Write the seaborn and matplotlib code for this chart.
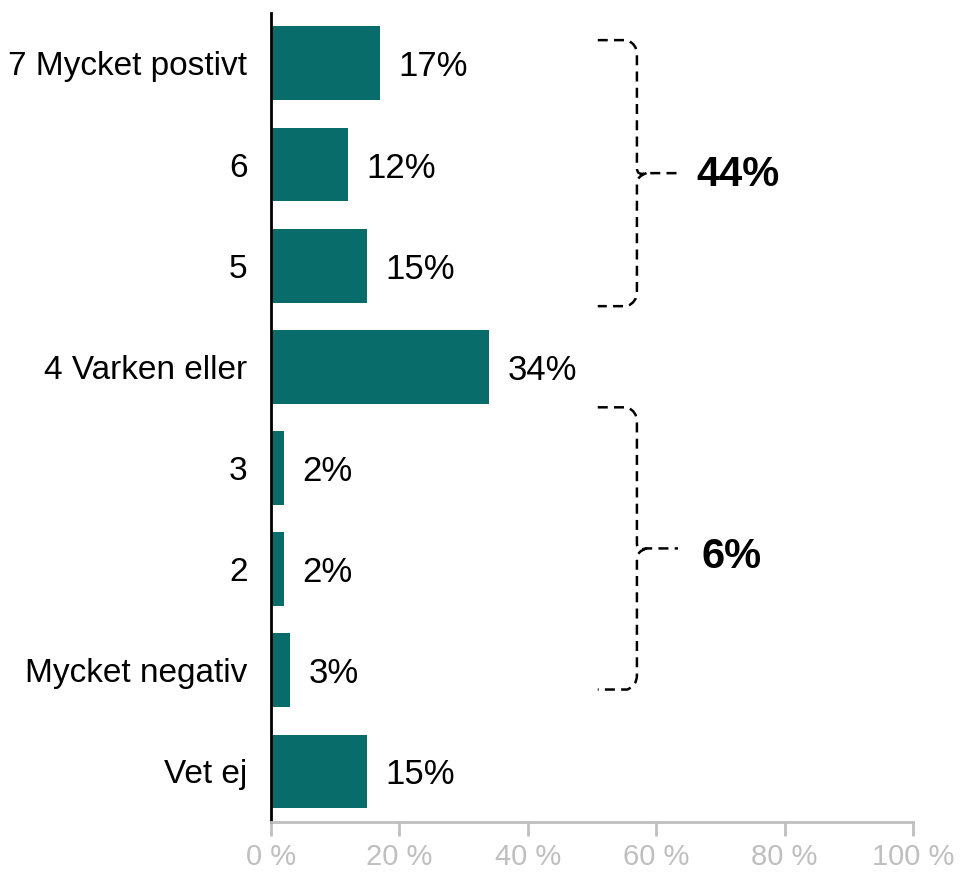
import matplotlib.pyplot as plt
import pandas as pd
import seaborn as sns
from matplotlib.path import Path
from matplotlib.patches import PathPatch

categories = ["7 Mycket postivt", "6", "5", "4 Varken eller", "3", "2", "Mycket negativ", "Vet ej"]
values = [17, 12, 15, 34, 2, 2, 3, 15]
x_ticks = [0, 20, 40, 60, 80, 100]
group_labels = ["44%", "6%"]

plt.rcParams["font.family"] = ["Liberation Sans", "DejaVu Sans"]

df = pd.DataFrame({"Svar": categories, "Andel": values})

fig = plt.figure(figsize=(9.61, 8.72), dpi=100)
ax = fig.add_axes([0.282, 0.0573, 0.668, 0.928])

sns.barplot(data=df, y="Svar", x="Andel", orient="h", color="#076C6A",
            saturation=1, width=0.73, ax=ax)

for container in ax.containers:
    texts = ax.bar_label(container, labels=[f"{v}%" for v in values], padding=13,
                         fontsize=25, color="black")
    for t in texts:
        t.set_va("center_baseline")

ax.set_xlim(0, 100)
ax.set_ylim(7.5, -0.5)
ax.set_xticks(x_ticks)
ax.set_xticklabels([f"{t} %" for t in x_ticks], fontsize=21, color="#BFBFBF")
ax.tick_params(axis="x", length=10, width=2, color="#BFBFBF", pad=5)
ax.tick_params(axis="y", length=0, labelsize=24, pad=17)
for lbl in ax.get_yticklabels():
    lbl.set_va("center_baseline")
ax.set_xlabel("")
ax.set_ylabel("")
for side in ["top", "right"]:
    ax.spines[side].set_visible(False)
ax.spines["bottom"].set_color("#BFBFBF")
ax.spines["bottom"].set_linewidth(2)
ax.spines["left"].set_color("black")
ax.spines["left"].set_linewidth(2)


# dashed brackets grouping the answers
def brace(ax, top, bottom, x0=50.9, x1=57.0, x2=63.4):
    mid = (top + bottom) / 2
    verts = [(x0, top), (x1 - 1.5, top), (x1, top + 0.04), (x1, top + 0.14),
             (x1, mid - 0.05),
             (x1, mid + 0.03), (x1 + 1.5, mid), (x2, mid),
             (x1 + 1.5, mid), (x1, mid + 0.03), (x1, mid + 0.1),
             (x1, bottom - 0.14), (x1, bottom - 0.04), (x1 - 1.5, bottom), (x0, bottom)]
    codes = [Path.MOVETO, Path.LINETO, Path.CURVE3, Path.CURVE3,
             Path.LINETO,
             Path.CURVE3, Path.CURVE3, Path.LINETO,
             Path.MOVETO, Path.CURVE3, Path.CURVE3,
             Path.LINETO, Path.CURVE3, Path.CURVE3, Path.LINETO]
    patch = PathPatch(Path(verts, codes), fill=False, edgecolor="black", lw=1.8,
                      linestyle=(0, (4, 2.5)), clip_on=False)
    ax.add_patch(patch)
    return mid


mid1 = brace(ax, -0.23, 2.40)
mid2 = brace(ax, 3.40, 6.19)
ax.text(66.2, mid1 + 0.02, group_labels[0], fontsize=30, fontweight="bold", va="center", ha="left")
ax.text(67.0, mid2 + 0.08, group_labels[1], fontsize=30, fontweight="bold", va="center", ha="left")

plt.savefig("out.png", dpi=100)
plt.close()
